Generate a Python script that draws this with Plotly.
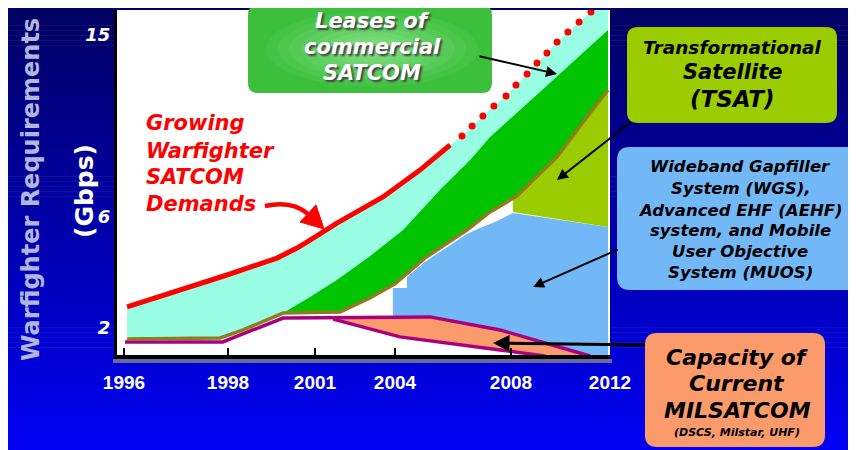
import numpy as np
import plotly.graph_objects as go

W, H = 856, 450
OFF = 8  # page margin of the browser page the figure sits in

# ---------------- axis ticks (cartoon chart with non-linear axes) ----------------
TICK_YEARS = [1996, 1998, 2001, 2004, 2008, 2012]
TICK_YEAR_LABELS = ["1996", "1998", "2001", "2004", "2008", "2012"]
TICK_GBPS = [2, 6, 15]
TICK_GBPS_LABELS = ["2", "6", "15"]

# ---------------- data (year, Gbps) ----------------
# Growing warfighter SATCOM demand (solid red line)
demand_year = [1996.06, 1997.02, 1997.98, 1999.69, 2000.38, 2000.83, 2001.82, 2003.55, 2004.86, 2005.90]
demand_gbps = [2.76, 3.33, 3.91, 4.52, 4.88, 5.17, 5.78, 6.99, 8.32, 9.56]

# projected demand (red dots)
projected_year = [2006.31, 2006.66, 2007.03, 2007.41, 2007.83, 2008.20, 2008.65,
                  2009.05, 2009.45, 2009.86, 2010.30, 2010.75, 2011.23]
projected_gbps = [10.01, 10.50, 10.99, 11.49, 11.98, 12.53, 13.07,
                  13.62, 14.11, 14.65, 15.15, 15.64, 16.14]

# top edge of leases area beyond the last dot
leases_edge_year = [2011.31, 2011.92]
leases_edge_gbps = [16.24, 16.24]

# programmed capacity (olive line)
programmed_year = [1996.06, 1997.85, 1998.52, 1999.90, 2001.94, 2003.06, 2004.00,
                   2005.03, 2006.48, 2007.28, 2008.24, 2009.86, 2011.19, 2011.92]
programmed_gbps = [1.60, 1.64, 1.93, 2.54, 2.58, 3.08, 3.59,
                   4.52, 5.53, 6.25, 7.04, 8.97, 11.14, 12.28]

# upper edge of dark green band
green_top_year = [1999.90, 2000.83, 2001.82, 2003.06, 2004.28, 2005.55, 2006.59,
                  2007.28, 2009.17, 2010.79, 2011.92]
green_top_gbps = [2.54, 3.12, 3.73, 4.59, 5.53, 7.34, 8.82,
                  9.96, 12.18, 13.96, 15.25]

# TSAT region
tsat_year = [2008.08, 2008.08, 2008.24, 2009.86, 2011.19, 2011.92, 2011.92]
tsat_gbps = [6.25, 6.84, 7.04, 8.97, 11.14, 12.28, 5.64]

# WGS / AEHF / MUOS region
wgs_year = [2003.92, 2003.92, 2004.41, 2004.41, 2005.03, 2005.90, 2006.48, 2006.93,
            2007.45, 2008.08, 2011.92, 2011.92, 2011.19, 2007.62, 2005.21]
wgs_gbps = [2.36, 3.44, 3.44, 3.84, 4.38, 4.99, 5.39, 5.60,
            5.82, 6.20, 5.64, 0.95, 0.95, 1.93, 2.36]

# capacity of current MILSATCOM (magenta outline)
milsat_upper_year = [1996.02, 1997.90, 1999.90, 2005.21, 2007.62, 2011.19]
milsat_upper_gbps = [1.50, 1.50, 2.36, 2.40, 1.93, 0.99]
milsat_lower_year = [2001.68, 2004.17, 2007.62, 2009.37]
milsat_lower_gbps = [2.32, 1.68, 1.21, 0.99]

# ---------------- scale warps (to follow the drawing's uneven axes) ----------------
X_SCALE_YEARS = [1990, 1996, 1998, 2001, 2004, 2008, 2012, 2020]
X_SCALE_POS = [-188, 124, 228, 315, 395, 511, 610, 808]
Y_SCALE_GBPS = [0, 2, 6, 15, 20]
Y_SCALE_POS = [66.5, 122, 233, 415, 516.1]


def sx(v):
    return list(np.interp(v, X_SCALE_YEARS, X_SCALE_POS))


def sy(v):
    return list(np.interp(v, Y_SCALE_GBPS, Y_SCALE_POS))


# ---------------- colours ----------------
C_CYAN = "#99fde3"
C_GREEN = "#00c400"
C_TSAT = "#9acc00"
C_BLUE = "#72b8f7"
C_OLIVE = "#8e7c1e"
C_MAG = "#a8007e"
C_ORANGE = "#fb9a6a"
C_RED = "#ff0000"

FONT = "DejaVu Sans"

fig = go.Figure()


def poly(xs, ys, color):
    fig.add_trace(go.Scatter(x=sx(xs), y=sy(ys), fill="toself", fillcolor=color,
                             mode="lines", line=dict(width=0, color=color),
                             hoverinfo="skip", showlegend=False))


# leases (cyan) area: from demand curve down to programmed capacity
poly(demand_year + projected_year + leases_edge_year + programmed_year[::-1],
     demand_gbps + projected_gbps + leases_edge_gbps + programmed_gbps[::-1], C_CYAN)
# green band
poly(green_top_year + programmed_year[3:][::-1],
     green_top_gbps + programmed_gbps[3:][::-1], C_GREEN)
# WGS etc.
poly(wgs_year, wgs_gbps, C_BLUE)
# TSAT
poly(tsat_year, tsat_gbps, C_TSAT)
# current MILSATCOM (orange fill)
poly(milsat_upper_year[2:] + milsat_lower_year[::-1],
     milsat_upper_gbps[2:] + milsat_lower_gbps[::-1], C_ORANGE)
# magenta outlines
fig.add_trace(go.Scatter(x=sx(milsat_upper_year), y=sy(milsat_upper_gbps), mode="lines",
                         line=dict(color=C_MAG, width=3.5), hoverinfo="skip", showlegend=False))
fig.add_trace(go.Scatter(x=sx(milsat_lower_year), y=sy(milsat_lower_gbps), mode="lines",
                         line=dict(color=C_MAG, width=3.5), hoverinfo="skip", showlegend=False))
# programmed capacity (olive)
fig.add_trace(go.Scatter(x=sx(programmed_year), y=sy(programmed_gbps), mode="lines",
                         line=dict(color=C_OLIVE, width=3.5), hoverinfo="skip", showlegend=False))
# demand
fig.add_trace(go.Scatter(x=sx(demand_year), y=sy(demand_gbps), mode="lines",
                         line=dict(color=C_RED, width=5), hoverinfo="skip", showlegend=False))
fig.add_trace(go.Scatter(x=sx(projected_year), y=sy(projected_gbps), mode="markers",
                         marker=dict(color=C_RED, size=7), hoverinfo="skip", showlegend=False))


# ---------------- helpers for decoration in (screen) pixel coords ----------------
def px(x):
    return (x - OFF) / W


def py(y):
    return 1 - (y - OFF) / H


def rrect_path(x0, y0, x1, y1, r):
    pts = [
        ("M", [(x0 + r, y0)]), ("L", [(x1 - r, y0)]), ("Q", [(x1, y0), (x1, y0 + r)]),
        ("L", [(x1, y1 - r)]), ("Q", [(x1, y1), (x1 - r, y1)]), ("L", [(x0 + r, y1)]),
        ("Q", [(x0, y1), (x0, y1 - r)]), ("L", [(x0, y0 + r)]), ("Q", [(x0, y0), (x0 + r, y0)]),
    ]
    s = ""
    for cmd, ps in pts:
        s += cmd + " " + " ".join(f"{px(a):.5f},{py(b):.5f}" for a, b in ps) + " "
    return s + "Z"


shapes = []
# background gradient
n = 90
top, bot = 5, H + OFF
for i in range(n):
    y0 = top + (bot - top) * i / n
    y1 = top + (bot - top) * (i + 1) / n + 0.6
    t = (y0 - 5) / (H - 5)
    b = int(round(min(245, 98 + (245 - 98) * t)))
    shapes.append(dict(type="rect", xref="paper", yref="paper", x0=px(6), x1=1.02,
                       y0=py(y1), y1=py(y0), fillcolor=f"rgb(0,0,{b})",
                       line=dict(width=0), layer="below"))
# white plot area
shapes.append(dict(type="rect", xref="paper", yref="paper", x0=px(117), x1=px(610),
                   y0=py(355), y1=py(10), fillcolor="white", line=dict(width=0), layer="below"))
# grey band under x axis
shapes.append(dict(type="rect", xref="paper", yref="paper", x0=px(113), x1=px(612),
                   y0=py(363), y1=py(359), fillcolor="#6a6a9c", line=dict(width=0), layer="below"))

# red curved arrow
shapes.append(dict(type="path", xref="paper", yref="paper",
                   path=f"M {px(265)},{py(206)} Q {px(292)},{py(200)} {px(308)},{py(214)}",
                   line=dict(color=C_RED, width=4.5), layer="above"))
shapes.append(dict(type="path", xref="paper", yref="paper",
                   path=f"M {px(300)},{py(222)} L {px(316)},{py(205)} L {px(324)},{py(229)} Z",
                   fillcolor=C_RED, line=dict(color=C_RED, width=1), layer="above"))

# boxes
shapes.append(dict(type="path", xref="paper", yref="paper", path=rrect_path(248, 5, 492, 93, 10),
                   fillcolor="#3cc03c", line=dict(width=0), layer="above"))
for k in range(10):
    f = 1 - k / 10
    rx, ry = 118 * f, 42 * f
    g = k / 9
    col = f"rgb({int(60 + (135 - 60) * g)},{int(192 + (225 - 192) * g)},{int(60 + (135 - 60) * g)})"
    shapes.append(dict(type="circle", xref="paper", yref="paper",
                       x0=px(372 - rx), x1=px(372 + rx), y0=py(49 + ry), y1=py(49 - ry),
                       fillcolor=col, line=dict(width=0), layer="above"))
shapes.append(dict(type="path", xref="paper", yref="paper", path=rrect_path(627, 27, 837, 123, 11),
                   fillcolor=C_TSAT, line=dict(width=0), layer="above"))
shapes.append(dict(type="path", xref="paper", yref="paper", path=rrect_path(617, 147, 870, 290, 13),
                   fillcolor=C_BLUE, line=dict(width=0), layer="above"))
shapes.append(dict(type="path", xref="paper", yref="paper", path=rrect_path(645, 333, 825, 447, 12),
                   fillcolor=C_ORANGE, line=dict(width=0), layer="above"))

annotations = []


def text(x, y, s, size, color="black", anchor="center", shadow=None, angle=0, italic=True):
    f = dict(family=FONT, size=size, color=color, weight="bold",
             style="italic" if italic else "normal")
    if shadow:
        f["shadow"] = shadow
    annotations.append(dict(xref="paper", yref="paper", x=px(x), y=py(y), text=s,
                            showarrow=False, font=f, xanchor=anchor, yanchor="middle",
                            borderpad=0, textangle=angle,
                            align="left" if anchor == "left" else "center"))


# axis titles
text(31, 190, "Warfighter Requirements", 24, color="#b2b6dc", angle=-90, italic=False)
text(84, 191, "(Gbps)", 25, color="white", angle=-90, italic=False)

# Growing demands
for s, y in zip(["Growing", "Warfighter", "SATCOM", "Demands"], [123, 151, 177, 204]):
    text(145, y, s, 21, color=C_RED, anchor="left")

# leases
for s, y in zip(["Leases of", "commercial", "SATCOM"], [21, 47, 73]):
    text(372, y, s, 21, color="white", shadow="2px 2px 2px #444")

# TSAT
text(732, 47, "Transformational", 18.5)
text(732, 72, "Satellite", 21)
text(732, 99, "(TSAT)", 23)

# WGS
for s, y in zip(["Wideband Gapfiller", "System (WGS),", "Advanced EHF (AEHF)",
                 "system, and Mobile", "User Objective", "System (MUOS)"],
                [167, 188, 210, 230, 251, 272]):
    text(740, y, s, 16.5)

# capacity
text(737, 357, "Capacity of", 22)
text(737, 383, "Current", 22)
text(737, 410, "MILSATCOM", 22)
text(737, 432, "(DSCS, Milstar, UHF)", 11)


# arrows
def arrow(hx, hy, tx, ty, w=2):
    annotations.append(dict(xref="paper", yref="paper", x=px(hx), y=py(hy), ax=tx - hx, ay=ty - hy,
                            axref="pixel", ayref="pixel", text="", showarrow=True,
                            arrowhead=2, arrowsize=1.1, arrowwidth=w, arrowcolor="black"))


arrow(557, 74, 478, 56)
arrow(557, 180, 632, 121)
arrow(533, 287, 619, 249)
arrow(493, 343, 646, 345, w=3)

fig.update_layout(
    width=W, height=H, autosize=False,
    margin=dict(l=0, r=0, t=0, b=0, pad=0),
    paper_bgcolor="white", plot_bgcolor="rgba(0,0,0,0)",
    showlegend=False,
    shapes=shapes, annotations=annotations,
    xaxis=dict(domain=[px(117), px(610)], range=[117, 610], showgrid=False, zeroline=False,
               automargin=False,
               showline=True, linecolor="black", linewidth=4,
               ticks="inside", ticklen=7, tickwidth=2, tickcolor="black",
               tickvals=sx(TICK_YEARS), ticktext=TICK_YEAR_LABELS,
               tickfont=dict(family="Liberation Sans", size=19, color="white", weight="bold"),
               ticklabelstandoff=7, fixedrange=True),
    yaxis=dict(domain=[py(355), py(10)], range=[95, 440], showgrid=False, zeroline=False,
               automargin=False,
               showline=True, linecolor="black", linewidth=3, ticks="",
               tickvals=sy(TICK_GBPS), ticktext=TICK_GBPS_LABELS,
               tickfont=dict(family=FONT, size=18, color="white", weight="bold", style="italic"),
               fixedrange=True),
)

fig.write_html("out.html")
